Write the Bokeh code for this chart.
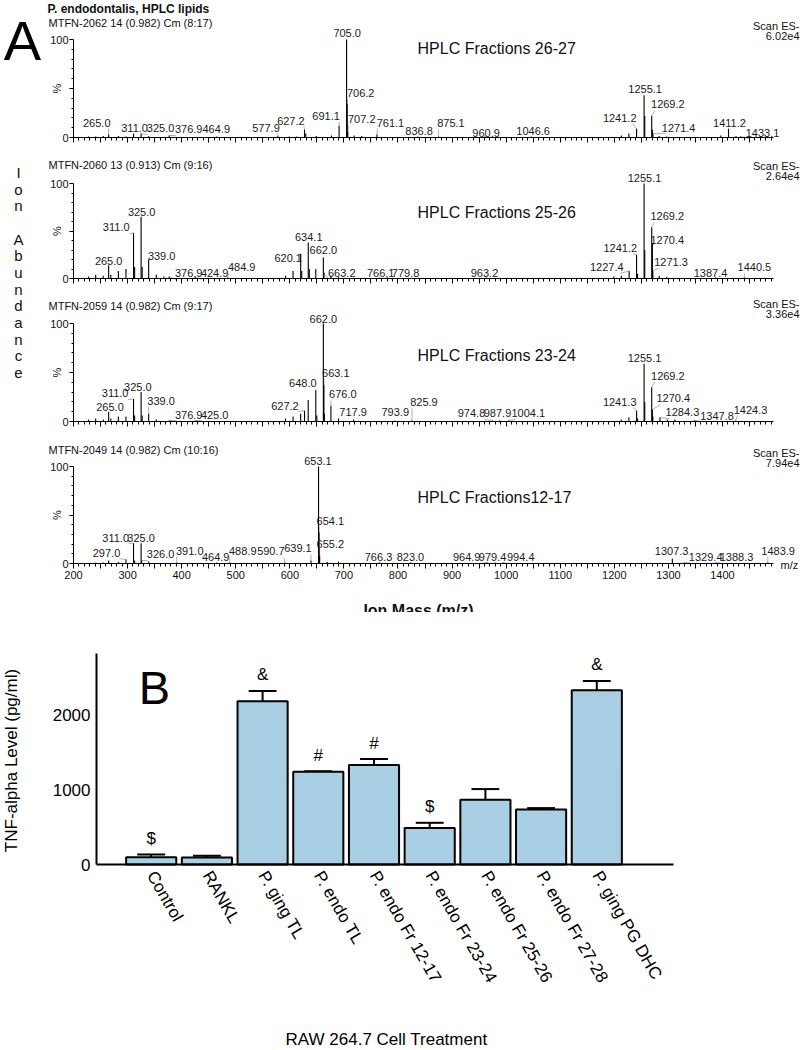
import math
from bokeh.plotting import figure
from bokeh.models import Range1d, FixedTicker, Label, LabelSet, ColumnDataSource, LinearAxis
from bokeh.layouts import column
from bokeh.core.properties import value
from bokeh.embed import file_html
from bokeh.resources import INLINE

FONT = "Liberation Sans"
TXT = "#111111"

# ---------------- Panel A data (m/z, relative abundance %) ----------------
panel_a_title = "P. endodontalis, HPLC lipids"

s1_header = "MTFN-2062 14 (0.982) Cm (8:17)"
s1_fraction = "HPLC Fractions 26-27"
s1_scan = "6.02e4"
s1_mz = [228, 241, 255, 265.0, 283, 297, 311.0, 325.0, 339, 376.9, 464.9, 577.9, 599, 613, 627.2,
         629.5, 649, 677, 691.1, 705.0, 706.2, 707.2, 719, 733, 761.1, 836.8, 875.1, 960.9, 1046.6,
         1213, 1227, 1241.2, 1255.1, 1256.3, 1269.2, 1270.4, 1271.4, 1283, 1297, 1397, 1411.2, 1425, 1433.1]
s1_pct = [1, 1, 1.5, 3, 1.5, 1, 4, 4, 1.5, 2, 1, 1.5, 1, 1, 8,
          4, 1.5, 2, 12, 100, 34, 6, 2, 1.5, 3, 1, 1, 1, 1,
          2, 4, 9, 43, 22, 22, 8, 4, 1.5, 1, 2, 9, 1.5, 1]
s1_labels = ["265.0", "311.0", "325.0", "376.9", "464.9", "577.9", "627.2", "691.1", "705.0", "706.2",
             "707.2", "761.1", "836.8", "875.1", "960.9", "1046.6", "1241.2", "1255.1", "1269.2",
             "1271.4", "1411.2", "1433.1"]
# label anchor positions (m/z, %)
s1_label_x = [243, 313, 361, 413, 464, 556, 602, 667, 706, 731, 733, 786, 839, 898, 963, 1050, 1210,
              1257, 1299, 1319, 1413, 1474]
s1_label_y = [15.3, 9.2, 9.2, 8.2, 8.2, 10.2, 17.3, 22.4, 107, 44.9, 18.4, 15.3, 7.1, 14.3, 5.1, 7.1,
              20.4, 49, 33.7, 10.2, 14.3, 5.1]

s2_header = "MTFN-2060 13 (0.913) Cm (9:16)"
s2_fraction = "HPLC Fractions 25-26"
s2_scan = "2.64e4"
s2_mz = [228, 241, 255, 265.0, 269, 283, 297, 311.0, 313, 325.0, 327, 339.0, 353, 367, 376.9, 424.9,
         484.9, 592, 606, 620.1, 622, 634.1, 636, 648, 662.0, 663.2, 676, 690, 766.1, 779.8, 963.2,
         1199, 1213, 1227.4, 1241.2, 1243, 1255.1, 1256.3, 1269.2, 1270.4, 1271.3, 1283, 1297,
         1387.4, 1440.5]
s2_pct = [2, 4, 3, 14, 4, 8, 10, 48, 12, 65, 12, 20, 4, 2, 2, 1.5,
          1, 3, 8, 26, 8, 38, 10, 10, 22, 6, 3, 1.5, 1, 1, 1,
          2, 3, 8, 25, 5, 100, 30, 54, 37, 8, 3, 1.5,
          1, 1]
s2_labels = ["265.0", "311.0", "325.0", "339.0", "376.9", "424.9", "484.9", "620.1", "634.1", "662.0",
             "663.2", "766.1", "779.8", "963.2", "1227.4", "1241.2", "1255.1", "1269.2", "1270.4",
             "1271.3", "1387.4", "1440.5"]
s2_label_x = [265, 279, 326, 363, 413, 461, 511, 597, 635, 662, 696, 768, 814, 960, 1186, 1211, 1256,
              1298, 1298, 1305, 1378, 1459]
s2_label_y = [17.9, 53.7, 70.5, 24.2, 5.3, 5.3, 11.6, 22.1, 43.2, 29.5, 5.8, 5.3, 5.3, 5.3, 11.6, 32.6,
              106, 65.3, 41, 17, 5.3, 11.6]

s3_header = "MTFN-2059 14 (0.982) Cm (9:17)"
s3_fraction = "HPLC Fractions 23-24"
s3_scan = "3.36e4"
s3_mz = [228, 241, 255, 265.0, 269, 283, 297, 311.0, 313, 325.0, 327, 339.0, 353, 376.9, 425.0, 592,
         606, 620, 627.2, 634, 648.0, 650, 662.0, 663.1, 664, 676.0, 690, 717.9, 793.9, 825.9, 974.8,
         987.9, 1004.1, 1213, 1227, 1241.3, 1243, 1255.1, 1256.3, 1269.2, 1270.4, 1271.3, 1284.3,
         1298, 1312, 1347.8, 1424.3]
s3_pct = [2, 3, 2, 10, 3, 5, 5, 23, 6, 30, 6, 8, 2, 1, 1, 3,
          5, 8, 11, 22, 32, 6, 100, 37, 8, 16, 3, 2, 1, 1, 1,
          1, 1, 2, 4, 11, 3, 59, 20, 35, 12, 5, 4,
          2, 2, 1, 1]
s3_labels = ["265.0", "311.0", "325.0", "339.0", "376.9", "425.0", "627.2", "648.0", "662.0", "663.1",
             "676.0", "717.9", "793.9", "825.9", "974.8", "987.9", "1004.1", "1241.3", "1255.1",
             "1269.2", "1270.4", "1284.3", "1347.8", "1424.3"]
s3_label_x = [267.5, 277, 319, 362, 413, 461, 591, 624, 662, 685, 698, 717, 795, 848, 936, 984, 1041,
              1210, 1256, 1299, 1309, 1326, 1390, 1452]
s3_label_y = [15.3, 28.6, 34.7, 21.4, 7.1, 7.1, 16.3, 38.8, 105, 49, 27.6, 9.2, 9.2, 19.4, 8.2, 8.2,
              8.2, 20.4, 64.3, 46.9, 23.5, 9.2, 6.1, 12.2]

s4_header = "MTFN-2049 14 (0.982) Cm (10:16)"
s4_fraction = "HPLC Fractions12-17"
s4_scan = "7.94e4"
s4_mz = [241, 255, 265, 283, 297.0, 311.0, 313, 325.0, 326.0, 339, 391.0, 464.9, 488.9, 590.7, 639.1,
         653.1, 654.1, 655.2, 669, 690, 766.3, 823.0, 964.9, 979.4, 994.4, 1307.3, 1329.4, 1388.3,
         1483.9]
s4_pct = [1, 1, 3, 1.5, 4, 21, 3, 21, 3, 2, 1, 1, 1, 1, 3,
          100, 32, 8, 1.5, 2, 1, 1, 1, 1, 1, 5, 1, 1,
          1]
s4_labels = ["297.0", "311.0", "325.0", "326.0", "391.0", "464.9", "488.9", "590.7", "639.1", "653.1",
             "654.1", "655.2", "766.3", "823.0", "964.9", "979.4", "994.4", "1307.3", "1329.4",
             "1388.3", "1483.9"]
s4_label_x = [261, 278, 325, 361, 415, 463, 513, 565, 615, 652, 675, 675, 764, 823, 927, 975, 1027,
              1306, 1369, 1426, 1503]
s4_label_y = [11.3, 26.8, 26.8, 9.3, 13.4, 6.2, 12.4, 12.4, 15.5, 106, 44.3, 20.6, 6.2, 6.2, 6.2, 6.2,
              6.2, 13.4, 6.2, 6.2, 13.4]

mz_label_ticks = list(range(200, 1500, 100))
mz_mid_ticks = list(range(250, 1500, 100))
mz_minor = [v for v in range(210, 1500, 10) if v % 50]

# ---------------- Panel B data ----------------
treatments = ["Control", "RANKL", "P. ging TL", "P. endo TL", "P. endo Fr 12-17", "P. endo Fr 23-24",
              "P. endo Fr 25-26", "P. endo Fr 27-28", "P. ging PG DHC"]
tnf_mean = [98, 95, 2188, 1244, 1333, 488, 868, 738, 2336]
tnf_sem = [36, 22, 138, 6, 80, 71, 143, 18, 125]
sig_marks = ["$", "", "&", "#", "#", "$", "", "", "&"]
tnf_ticks = [0, 1000, 2000]

# ---------------- layout constants (page pixels) ----------------
W = 804
PX_PER_MZ = 0.5408
MZ_END = 200 + 700 / PX_PER_MZ


def mzx(xr):
    return 200 + (xr - 73) / PX_PER_MZ


def add_text(p, x, y, text, size, align="left", baseline="middle", angle=0.0, style="normal", color=TXT):
    p.add_layout(Label(x=x, y=y, text=text, text_font=FONT, text_font_size=size, text_align=align,
                       text_baseline=baseline, angle=angle, text_font_style=style, text_color=color))


def bare_figure(h, xr, yr):
    p = figure(width=W, height=h, x_range=Range1d(*xr), y_range=Range1d(*yr),
               output_backend="svg", toolbar_location=None, x_axis_location=None,
               y_axis_location=None, min_border=0, min_border_left=0, min_border_right=0,
               min_border_top=0, min_border_bottom=0)
    p.grid.visible = False
    p.outline_line_color = None
    p.background_fill_color = "white"
    p.border_fill_color = "white"
    if "frame_align" in p.properties():
        p.frame_align = False
    return p


def make_spectrum(page_top, fig_h, T, B, mz, pct, labels, lx, ly, header, fraction, scan, header_y,
                  fraction_y, scan_y, bottom_labels):
    def ry(yr):
        return (B - yr) / (B - T) * 100.0

    p = bare_figure(fig_h, (mzx(0), mzx(W)), (ry(page_top + fig_h), ry(page_top)))

    pxpp = (B - T) / 100.0
    # leader lines from labels to peaks
    peak = dict(zip(mz, pct))
    x0, y0, x1, y1 = [], [], [], []
    half_w = 13 / PX_PER_MZ
    for t, x, y in zip(labels, lx, ly):
        m = float(t)
        h = peak[m]
        dx = m - x
        gap = (y * pxpp - 6) - h * pxpp
        if abs(dx * PX_PER_MZ) > 9 or gap > 4:
            sx = x + max(-half_w, min(half_w, dx))
            x0.append(sx)
            y0.append(y - 6 / pxpp)
            x1.append(m)
            y1.append(h)
    p.segment(x0=x0, y0=y0, x1=x1, y1=y1, line_color="#9a9a9a", line_width=0.8)

    p.segment(x0=mz, y0=[0] * len(mz), x1=mz, y1=pct, line_color="black", line_width=1.1)

    src = ColumnDataSource(dict(x=lx, y=ly, text=labels))
    p.add_layout(LabelSet(x="x", y="y", text="text", source=src, text_font=value(FONT),
                          text_font_size="11px", text_align="center", text_baseline="middle",
                          text_color="#1a1a1a"))

    # x axis on the baseline
    if bottom_labels:
        xa = LinearAxis(fixed_location=0, bounds=(200, MZ_END),
                        ticker=FixedTicker(ticks=mz_label_ticks, minor_ticks=mz_minor),
                        major_label_text_font=FONT, major_label_text_font_size="11px",
                        major_label_text_color=TXT, major_label_standoff=2)
    else:
        xa = LinearAxis(fixed_location=0, bounds=(200, MZ_END),
                        ticker=FixedTicker(ticks=[], minor_ticks=mz_minor + mz_label_ticks))
    xa.major_tick_out = 5
    xa.major_tick_in = 0
    xa.minor_tick_out = 3
    xa.minor_tick_in = 0
    xa.axis_line_color = "black"
    p.add_layout(xa, "below")
    xm = LinearAxis(fixed_location=0, bounds=(200, MZ_END),
                    ticker=FixedTicker(ticks=[], minor_ticks=mz_mid_ticks + ([] if bottom_labels else mz_label_ticks)))
    xm.axis_line_color = None
    xm.minor_tick_out = 5
    xm.minor_tick_in = 0
    p.add_layout(xm, "below")

    ya = LinearAxis(fixed_location=200, bounds=(0, 100),
                    ticker=FixedTicker(ticks=[0, 100], minor_ticks=[10, 20, 30, 40, 60, 70, 80, 90]),
                    major_label_text_font=FONT, major_label_text_font_size="11px",
                    major_label_text_color=TXT, major_label_standoff=1)
    ya.major_tick_out = 4
    ya.major_tick_in = 0
    ya.minor_tick_out = 2
    ya.minor_tick_in = 0
    ya.axis_line_color = "black"
    p.add_layout(ya, "left")
    ym = LinearAxis(fixed_location=200, bounds=(0, 100), ticker=FixedTicker(ticks=[], minor_ticks=[50]))
    ym.axis_line_color = None
    ym.minor_tick_out = 4
    ym.minor_tick_in = 0
    p.add_layout(ym, "left")

    add_text(p, mzx(56), 50, "%", "11px", align="center", angle=math.pi / 2)
    add_text(p, mzx(48), ry(header_y), header, "11px")
    add_text(p, mzx(417), ry(fraction_y), fraction, "16px")
    add_text(p, mzx(799), ry(scan_y), "Scan ES-", "11px", align="right")
    add_text(p, mzx(799), ry(scan_y + 10), scan, "11px", align="right")
    return p, ry


p1, ry1 = make_spectrum(0, 158, 39, 137, s1_mz, s1_pct, s1_labels, s1_label_x, s1_label_y,
                        s1_header, s1_fraction, s1_scan, 22, 48, 25, False)
p2, ry2 = make_spectrum(158, 139, 183, 278, s2_mz, s2_pct, s2_labels, s2_label_x, s2_label_y,
                        s2_header, s2_fraction, s2_scan, 164, 212, 165, False)
p3, ry3 = make_spectrum(297, 143, 323, 421, s3_mz, s3_pct, s3_labels, s3_label_x, s3_label_y,
                        s3_header, s3_fraction, s3_scan, 305, 355, 303, False)
p4, ry4 = make_spectrum(440, 172, 466, 563, s4_mz, s4_pct, s4_labels, s4_label_x, s4_label_y,
                        s4_header, s4_fraction, s4_scan, 449, 497, 452, True)

# panel A extras
add_text(p1, mzx(22), ry1(40), "A", "56px", align="center", baseline="alphabetic", color="black")
add_text(p1, mzx(47), ry1(8), panel_a_title, "12px", style="bold")
add_text(p4, mzx(780), ry4(564), "m/z", "11px")
add_text(p4, mzx(418), ry4(610), "Ion Mass (m/z)", "16px", align="center", style="bold")

word = "Ion Abundance"
for k, ch in enumerate(word):
    if ch == " ":
        continue
    yy = 172 + 16.67 * k
    if yy < 297:
        add_text(p2, mzx(18), ry2(yy), ch, "15px", align="center")
    else:
        add_text(p3, mzx(18), ry3(yy), ch, "15px", align="center")

# ---------------- Panel B ----------------
PB_TOP = 612
PB_H = 436
B_T, B_B = 653, 864
PX_PER_CAT = 55.7
C1 = 150.7
Y_PER_PX = 1000 / 74.6


def bx(xr):
    return 1 + (xr - C1) / PX_PER_CAT


def by(yr):
    return (B_B - yr) * Y_PER_PX


pb = bare_figure(PB_H, (bx(0), bx(W)), (by(PB_TOP + PB_H), by(PB_TOP)))

xs = list(range(1, len(treatments) + 1))
tops = [m + s for m, s in zip(tnf_mean, tnf_sem)]
pb.segment(x0=xs, y0=tnf_mean, x1=xs, y1=tops, line_color="black", line_width=2)
pb.segment(x0=[x - 0.25 for x in xs], y0=tops, x1=[x + 0.25 for x in xs], y1=tops,
           line_color="black", line_width=2)
pb.vbar(x=xs, top=tnf_mean, bottom=0, width=0.9, fill_color="#a8cfe3", line_color="black",
        line_width=2)

msrc = ColumnDataSource(dict(x=xs, y=[t + 215 for t in tops], text=sig_marks))
pb.add_layout(LabelSet(x="x", y="y", text="text", source=msrc, text_font=value(FONT),
                       text_font_size="17px", text_align="center", text_baseline="middle",
                       text_color="black"))

yb = LinearAxis(fixed_location=bx(96), bounds=(0, by(B_T)),
                ticker=FixedTicker(ticks=tnf_ticks, minor_ticks=[]),
                major_label_text_font=FONT, major_label_text_font_size="17px",
                major_label_text_color="black", major_label_standoff=6)
yb.major_tick_out = 0
yb.major_tick_in = 0
yb.minor_tick_out = 0
yb.minor_tick_in = 0
yb.axis_line_width = 2
yb.axis_line_color = "black"
pb.add_layout(yb, "left")

xb = LinearAxis(fixed_location=0, bounds=(bx(96), bx(673)),
                ticker=FixedTicker(ticks=xs, minor_ticks=[]),
                major_label_overrides={x: t for x, t in zip(xs, treatments)},
                major_label_orientation=-math.pi / 3,
                major_label_text_font=FONT, major_label_text_font_size="17px",
                major_label_text_color="black", major_label_standoff=8)
xb.major_tick_out = 0
xb.major_tick_in = 0
xb.minor_tick_out = 0
xb.minor_tick_in = 0
xb.axis_line_width = 2
xb.axis_line_color = "black"
pb.add_layout(xb, "below")

add_text(pb, bx(154), by(687), "B", "47px", align="center", baseline="alphabetic", color="black")
add_text(pb, bx(11), by(760), "TNF-alpha Level (pg/ml)", "17px", align="center",
         angle=math.pi / 2, color="black")
add_text(pb, bx(386), by(1039), "RAW 264.7 Cell Treatment", "17px", align="center", color="black")

layout = column(p1, p2, p3, p4, pb)
open("out.html", "w").write(file_html(layout, INLINE))
